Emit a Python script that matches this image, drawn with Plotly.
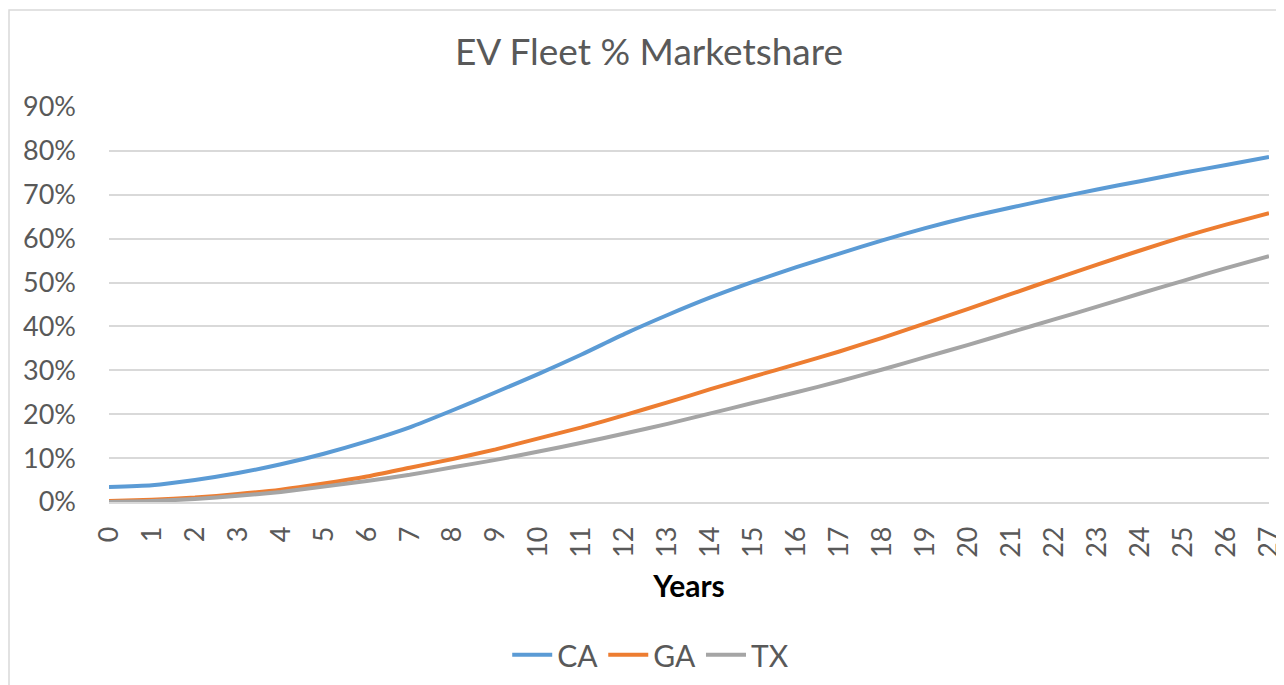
import plotly.graph_objects as go

# EV fleet market share (%)
years = list(range(28))
ca = [3.4, 3.8, 5.0, 6.6, 8.6, 11.0, 13.8, 17.0, 20.9, 25.0, 29.2, 33.6, 38.3, 42.6,
      46.6, 50.2, 53.5, 56.6, 59.6, 62.4, 64.9, 67.1, 69.2, 71.2, 73.1, 75.0, 76.8, 78.6]
ga = [0.2, 0.5, 1.0, 1.8, 2.8, 4.2, 5.8, 7.8, 9.8, 12.0, 14.5, 17.0, 19.8, 22.7,
      25.7, 28.6, 31.4, 34.3, 37.4, 40.7, 44.0, 47.4, 50.8, 54.1, 57.3, 60.4, 63.2, 65.8]
tx = [0.0, 0.2, 0.7, 1.4, 2.3, 3.5, 4.8, 6.2, 7.9, 9.6, 11.5, 13.5, 15.6, 17.8,
      20.2, 22.6, 25.0, 27.5, 30.2, 33.0, 35.8, 38.7, 41.6, 44.5, 47.5, 50.4, 53.3, 56.0]
series = [("CA", ca, "#5B9BD5"), ("GA", ga, "#ED7D31"), ("TX", tx, "#A5A5A5")]

font = "Lato, 'Open Sans', sans-serif"
grey_txt = "#595959"

fig = go.Figure()
for name, vals, col in series:
    fig.add_trace(go.Scatter(
        x=years, y=[v / 100 for v in vals], name=name, mode="lines",
        line=dict(color=col, width=4, shape="spline", smoothing=0.6)))

# the page body has an 8px margin, so the figure is 8px smaller than the window
fig.update_layout(
    width=1276, height=677,
    margin=dict(l=101, r=15, t=99, b=183, autoexpand=False),
    paper_bgcolor="white", plot_bgcolor="white",
    font=dict(family=font, color=grey_txt, size=26),
    title=dict(text="EV Fleet % Marketshare", x=0.4655, xref="paper",
               y=1 - 44 / 677, yanchor="middle", xanchor="center",
               font=dict(size=37, color=grey_txt)),
    showlegend=True,
    legend=dict(orientation="h", x=0.467, xanchor="center", y=-0.387,
                yanchor="middle", font=dict(size=30, color=grey_txt),
                itemwidth=40, tracegroupgap=0),
    shapes=[dict(type="rect", xref="paper", yref="paper",
                 x0=-0.0862, x1=1.03, y0=-0.5, y1=1.2456,
                 line=dict(color="#d9d9d9", width=1.5), layer="below")],
)
fig.update_xaxes(
    range=[0, 27], tickmode="array", tickvals=years,
    ticktext=[str(y) for y in years], tickangle=-90, automargin=False,
    showgrid=False, showline=True, linecolor="#d9d9d9", linewidth=1.5,
    ticks="", tickfont=dict(size=27, color=grey_txt), ticklabelstandoff=12,
    title=dict(text="<b>Years</b>", font=dict(size=30, color="black"), standoff=19),
    zeroline=False,
)
fig.update_yaxes(
    range=[0, 0.9], dtick=0.1, tickformat=".0%", automargin=False,
    showgrid=True, gridcolor="#d9d9d9", gridwidth=1.5,
    zeroline=False, showline=False, ticks="", ticklabelstandoff=32,
    tickfont=dict(size=27, color=grey_txt),
)

fig.write_html("out.html")
